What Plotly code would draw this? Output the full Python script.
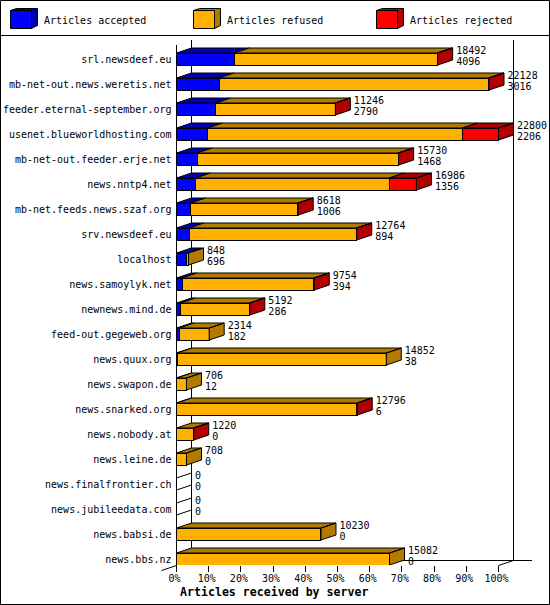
import plotly.graph_objects as go

servers = ["srl.newsdeef.eu", "mb-net-out.news.weretis.net", "feeder.eternal-september.org",
           "usenet.blueworldhosting.com", "mb-net-out.feeder.erje.net", "news.nntp4.net",
           "mb-net.feeds.news.szaf.org", "srv.newsdeef.eu", "localhost", "news.samoylyk.net",
           "newnews.mind.de", "feed-out.gegeweb.org", "news.quux.org", "news.swapon.de",
           "news.snarked.org", "news.nobody.at", "news.leine.de", "news.finalfrontier.ch",
           "news.jubileedata.com", "news.babsi.de", "news.bbs.nz"]
totals = [18492, 22128, 11246, 22800, 15730, 16986, 8618, 12764, 848, 9754, 5192, 2314,
          14852, 706, 12796, 1220, 708, 0, 0, 10230, 15082]
accepted = [4096, 3016, 2790, 2206, 1468, 1356, 1006, 894, 696, 394, 286, 182,
            38, 12, 6, 0, 0, 0, 0, 0, 0]
rejected = [40, 20, 20, 2560, 40, 1930, 20, 20, 0, 20, 20, 0,
            0, 0, 20, 20, 0, 0, 0, 0, 0]
tick_pct = [0, 10, 20, 30, 40, 50, 60, 70, 80, 90, 100]
legend_names = ["Articles accepted", "Articles refused", "Articles rejected"]

BLUE, ORANGE, RED = "#0000FF", "#FFB000", "#FF0000"
DARK = {BLUE: "#0000B2", ORANGE: "#B27B00", RED: "#B20000"}
W, H = 550, 605
MONO = "DejaVu Sans Mono"

PX_PCT = 3.22   # pixels per percent
DX = 15 / PX_PCT   # depth of the fake 3d, in axis units
DY = 5 / 25
HALF = 6 / 25
top_val = max(totals)


def pct(v):
    return v * 100 / top_val


rows = list(range(len(servers)))
refused = [t - a - r for t, a, r in zip(totals, accepted, rejected)]

fig = go.Figure()
for vals, color in [(accepted, BLUE), (refused, ORANGE), (rejected, RED)]:
    fig.add_trace(go.Bar(y=rows, x=[pct(v) for v in vals], orientation="h", width=HALF * 2,
                         marker=dict(color=color, line=dict(color="black", width=1))))

# top and end faces
faces = {BLUE: ([], []), ORANGE: ([], []), RED: ([], [])}
empty_x, empty_y = [], []
for r in rows:
    up = r - HALF
    down = r + HALF
    start = 0
    last = None
    for v, color in [(accepted[r], BLUE), (refused[r], ORANGE), (rejected[r], RED)]:
        if v == 0:
            continue
        x0, x1 = pct(start), pct(start + v)
        faces[color][0].extend([x0, x0 + DX, x1 + DX, x1, x0, None])
        faces[color][1].extend([up, up - DY, up - DY, up, up, None])
        start += v
        last = color
    end = pct(start)
    if last:
        faces[last][0].extend([end, end + DX, end + DX, end, end, None])
        faces[last][1].extend([up, up - DY, down - DY, down, up, None])
    else:
        empty_x.extend([0, DX, None, 0, DX, None])
        empty_y.extend([up, up - DY, None, down, down - DY, None])

for color, (fx, fy) in faces.items():
    fig.add_trace(go.Scatter(x=fx, y=fy, mode="lines", fill="toself", fillcolor=DARK[color],
                             line=dict(color="black", width=1)))
fig.add_trace(go.Scatter(x=empty_x, y=empty_y, mode="lines", line=dict(color="black", width=1)))

# value labels beside the bars
for vals, shift in [(totals, -8 / 25), (accepted, 3 / 25)]:
    fig.add_trace(go.Scatter(x=[pct(t) + DX + 1.1 for t in totals], y=[r + shift for r in rows],
                             mode="text", text=[str(v) for v in vals], textposition="middle right",
                             textfont=dict(family=MONO, size=10, color="black"), cliponaxis=False))


def path(points):
    return "M " + " L ".join(f"{x / W} {1 - y / H}" for x, y in points) + " Z"


def frame(points, fill=None):
    s = dict(type="path", xref="paper", yref="paper", path=path(points),
             line=dict(color="black", width=1))
    if fill:
        s["fillcolor"] = fill
    return s


def line(x0, y0, x1, y1, layer="below"):
    return dict(type="line", xref="paper", yref="paper", layer=layer, x0=x0 / W, x1=x1 / W,
                y0=1 - y0 / H, y1=1 - y1 / H, line=dict(color="black", width=1))


shapes = [
    line(0.5, 0.5, 549.5, 0.5), line(0.5, 604.5, 549.5, 604.5),
    line(0.5, 0.5, 0.5, 604.5), line(549.5, 0.5, 549.5, 604.5),
    line(0.5, 35.5, 549.5, 35.5),
    # walls
    line(176.5, 45, 176.5, 571), line(191.5, 40, 191.5, 560.5), line(513.5, 40, 513.5, 560.5),
    line(191.5, 560.5, 532, 560.5), line(161.5, 570.5, 176.5, 565.5), line(498.5, 565.5, 513.5, 560.5),
]

annotations = []
for i, (name, color) in enumerate(zip(legend_names, [BLUE, ORANGE, RED])):
    x = 10.5 + 183 * i
    shapes.append(frame([(x, 10.5), (x + 6, 8.5), (x + 27, 8.5), (x + 27, 25.5), (x + 21, 28.5), (x + 21, 10.5)],
                        DARK[color]))
    shapes.append(frame([(x, 10.5), (x + 21, 10.5), (x + 21, 28.5), (x, 28.5)], color))
    annotations.append(dict(xref="paper", yref="paper", x=(x + 32.5) / W, y=1 - 20 / H, text=name,
                            showarrow=False, xanchor="left", yanchor="middle",
                            font=dict(family=MONO, size=10, color="black"), borderpad=0))
annotations.append(dict(xref="paper", yref="paper", x=273.5 / W, y=1 - 592 / H,
                        text="<b>Articles received by server</b>", showarrow=False,
                        xanchor="center", yanchor="middle",
                        font=dict(family=MONO, size=11.6, color="black")))

fig.update_layout(
    width=W, height=H, barmode="stack", showlegend=False, paper_bgcolor="white", plot_bgcolor="white",
    margin=dict(l=0, r=0, t=0, b=0), shapes=shapes, annotations=annotations,
    xaxis=dict(domain=[176.5 / W, 545 / W], range=[0, 368.5 / PX_PCT], tickvals=tick_pct,
               ticktext=[f"{t}%" for t in tick_pct], ticks="outside", ticklen=6, tickcolor="black",
               tickfont=dict(family=MONO, size=10, color="black"), showgrid=False, zeroline=False,
               showline=False, automargin=False, ticklabelstandoff=-2, ticklabelshift=-2),
    yaxis=dict(domain=[1 - 565 / H, 1 - 40 / H], range=[20.24, -0.76], tickvals=rows, ticktext=servers,
               tickfont=dict(family=MONO, size=10, color="black"), showgrid=False, zeroline=False,
               showline=False, ticks="", ticklabelstandoff=4, automargin=False),
)

fig.write_html("out.html", post_script="document.body.style.margin = '0';",
               config={"displayModeBar": False})
